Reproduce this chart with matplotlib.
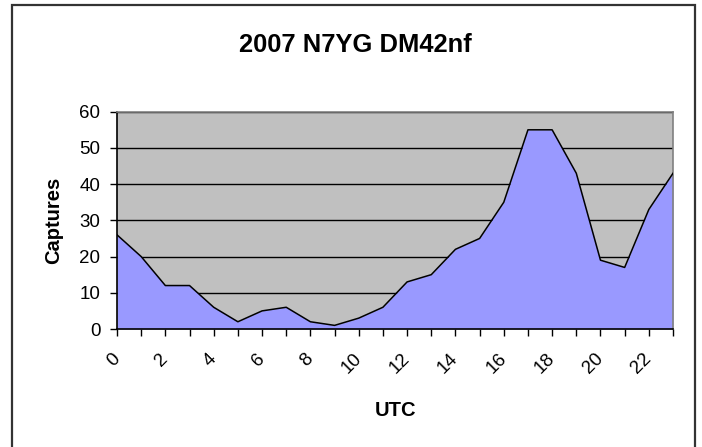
import matplotlib.pyplot as plt
import matplotlib.transforms as mtransforms
from matplotlib.patches import Rectangle

plt.rcParams["font.family"] = ["Liberation Sans", "DejaVu Sans"]

# captures per UTC hour
hours = [0, 1, 2, 3, 4, 5, 6, 7, 8, 9, 10, 11,
         12, 13, 14, 15, 16, 17, 18, 19, 20, 21, 22, 23]
captures = [26, 20, 12, 12, 6, 2, 5, 6, 2, 1, 3, 6,
            13, 15, 22, 25, 35, 55, 55, 43, 19, 17, 33, 43]
hour_labels = ["0", "", "2", "", "4", "", "6", "", "8", "", "10", "",
               "12", "", "14", "", "16", "", "18", "", "20", "", "22", ""]
y_ticks = [0, 10, 20, 30, 40, 50, 60]

W, H = 702, 447
fig = plt.figure(figsize=(W / 100, H / 100), dpi=100)

# outer chart frame (bottom edge runs off the image)
fig.patches.append(Rectangle((12 / W, -0.05), (695 - 12) / W, 1.05 - 5 / H,
                             transform=fig.transFigure, fill=False,
                             edgecolor="#333333", linewidth=1.6))

ax = fig.add_axes([117 / W, 1 - 329 / H, (673 - 117) / W, (329 - 111.7) / H])
ax.set_facecolor("#C0C0C0")

ax.fill_between(hours, captures, 0, color="#9999FF", zorder=2, linewidth=0)
ax.plot(hours, captures, color="black", linewidth=1.1, zorder=3)

ax.set_xlim(hours[0], hours[-1])
ax.set_ylim(y_ticks[0], y_ticks[-1])
ax.set_yticks(y_ticks)
ax.yaxis.grid(True, color="black", linewidth=1.0, zorder=1)
ax.set_axisbelow(True)

ax.set_xticks(hours)
ax.set_xticklabels(hour_labels, rotation=45, ha="right", va="center",
                   rotation_mode="anchor", fontsize=13.5)
offset = mtransforms.ScaledTranslation(-0.15, 0, fig.dpi_scale_trans)
for lbl in ax.get_xticklabels():
    lbl.set_transform(lbl.get_transform() + offset)

ax.tick_params(axis="x", direction="out", length=5, width=1, pad=14.5)
ax.tick_params(axis="y", direction="out", length=5, width=1, pad=7, labelsize=13.5)

for side in ["top", "right"]:
    ax.spines[side].set_color("#808080")
    ax.spines[side].set_linewidth(1.2)
for side in ["left", "bottom"]:
    ax.spines[side].set_color("black")
    ax.spines[side].set_linewidth(1.2)

fig.text(355 / W, 1 - 45 / H, "2007 N7YG DM42nf", ha="center", va="center",
         fontsize=18.4, fontweight="bold")
fig.text(396 / W, 1 - 411 / H, "UTC", ha="center", va="center",
         fontsize=14.5, fontweight="bold")
fig.text(54 / W, 1 - 220 / H, "Captures", ha="center", va="center",
         rotation=90, fontsize=14.5, fontweight="bold")

fig.savefig("out.png", dpi=100)
